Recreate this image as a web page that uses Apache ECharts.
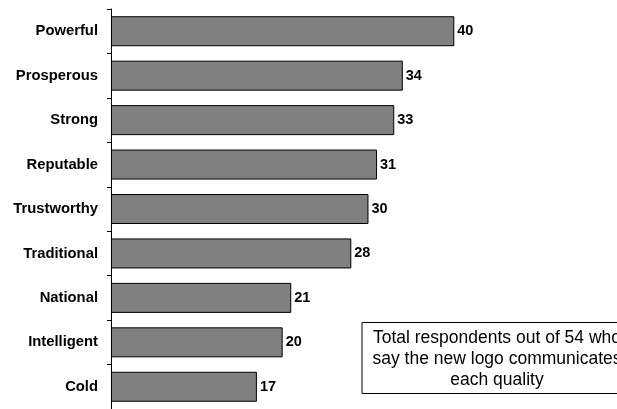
<!DOCTYPE html>
<html>
<head>
<meta charset="utf-8">
<script src="https://cdn.jsdelivr.net/npm/echarts@6/dist/echarts.min.js"></script>
<style>
html,body{margin:0;padding:0;background:#fff;}
#chart{width:617px;height:409px;}
</style>
</head>
<body>
<div id="chart"></div>
<script>
var categories = ["Powerful","Prosperous","Strong","Reputable","Trustworthy","Traditional","National","Intelligent","Cold"];
var values = [40,34,33,31,30,28,21,20,17];
var noteText = "Total respondents out of 54 who\nsay the new logo communicates\neach quality";

var chart = echarts.init(document.getElementById('chart'), null, {renderer:'canvas'});
var font = '"Liberation Sans", Arial, sans-serif';
chart.setOption({
  animation:false,
  backgroundColor:'#ffffff',
  grid:{left:111, right:162.7, top:9, height:401.5, containLabel:false},
  xAxis:{type:'value', min:0, max:40, show:false},
  yAxis:{
    type:'category', data:categories, inverse:true,
    axisLine:{show:true, lineStyle:{color:'#000', width:1}},
    axisTick:{show:true, length:4, lineStyle:{color:'#000'}},
    axisLabel:{margin:13, color:'#000', fontWeight:'bold', fontSize:14.8, fontFamily:font}
  },
  series:[{
    type:'bar', data:values, barWidth:30,
    itemStyle:{color:'#808080', borderColor:'#000', borderWidth:1},
    label:{show:true, position:'right', distance:3, color:'#000', fontWeight:'bold', fontSize:14.5, fontFamily:font}
  }],
  graphic:[
    {type:'rect', shape:{x:362, y:322.5, width:300, height:71}, style:{fill:'#fff', stroke:'#000', lineWidth:1}, z:10},
    {type:'text', x:497, y:359, z:11, style:{text:noteText, fill:'#000', font:'17.5px ' + font, textAlign:'center', textVerticalAlign:'middle', lineHeight:21}}
  ]
});
</script>
</body>
</html>
